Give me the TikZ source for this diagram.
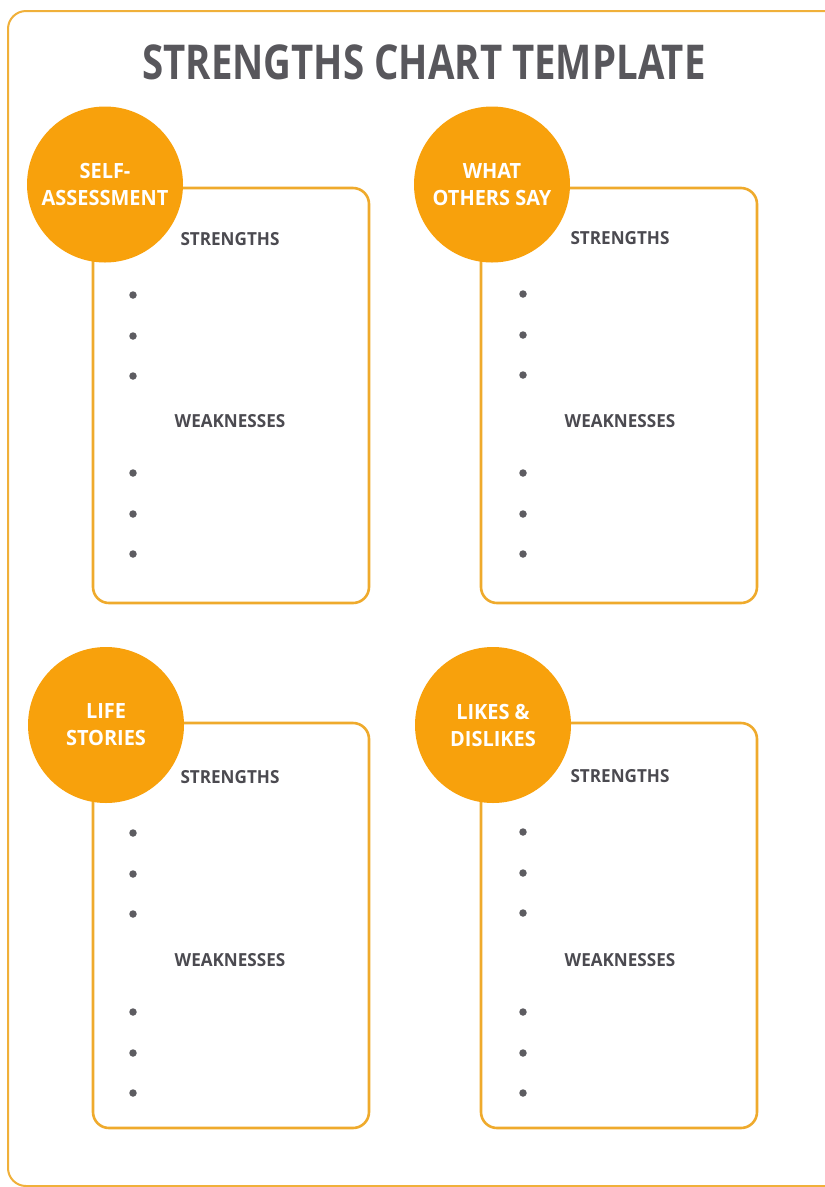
\documentclass[tikz,border=0pt]{standalone}
\usepackage{fontspec}
\setmainfont{Open Sans}
\newfontfamily\condfont[FakeStretch=0.80]{Open Sans}
\newfontfamily\headfont[FakeStretch=0.95]{Open Sans}
\definecolor{frameGold}{HTML}{F0B03A}
\definecolor{cardGold}{HTML}{EFAA2C}
\definecolor{badgeOrange}{HTML}{F8A10C}
\definecolor{titleGray}{HTML}{58575C}
\definecolor{labelGray}{HTML}{4B4A50}
\begin{document}
\begin{tikzpicture}[x=1pt,y=-1pt,
  card/.style={draw=cardGold, line width=2.6pt, rounded corners=16pt, fill=white, minimum width=276pt, inner sep=0pt},
  badge/.style={circle, fill=badgeOrange, minimum size=156pt, inner sep=0pt, text=white, align=center, font=\headfont\bfseries\fontsize{21}{27}\selectfont},
  heading/.style={text=labelGray, font=\headfont\bfseries\fontsize{18}{20}\selectfont, inner sep=0pt},
  dotmark/.style={circle, fill=labelGray!90, minimum size=7.5pt, inner sep=0pt},
  ttl/.style={text=titleGray, font=\condfont\bfseries\fontsize{48}{50}\selectfont, inner sep=0pt}
]
\useasboundingbox (0,0) rectangle (825,1187);
\fill[white] (0,0) rectangle (825,1187);
\draw[frameGold, line width=2pt, rounded corners=18pt] (8,11) rectangle (860,1186);

\node[ttl] (title) at (424,62) {STRENGTHS CHART TEMPLATE};

% cards
\node[card, minimum height=415pt] (c1) at (231,395.5) {};
\node[card, minimum height=415pt] (c2) at (619,395.5) {};
\node[card, minimum height=405pt] (c3) at (231,925.5) {};
\node[card, minimum height=405pt] (c4) at (619,925.5) {};

% badges
\node[badge] (b1) at (105,184.5) {SELF-\\ASSESSMENT};
\node[badge] (b2) at (492,184.5) {WHAT\\OTHERS SAY};
\node[badge] (b3) at (106,725) {LIFE\\STORIES};
\node[badge] (b4) at (493,725) {LIKES \&\\DISLIKES};

% headings and bullets
\foreach \cx/\bx/\sy/\wy/\nm in {230/133/239/421/a, 620/523/238/421/b, 230/133/777/960/c, 620/523/776/960/d}{
  \node[heading] (s\nm) at (\cx,\sy) {STRENGTHS};
  \node[heading] (w\nm) at (\cx,\wy) {WEAKNESSES};
  \node[dotmark] (s\nm1) at (\bx,\sy+56) {};
  \node[dotmark] (s\nm2) at (\bx,\sy+97) {};
  \node[dotmark] (s\nm3) at (\bx,\sy+137) {};
  \node[dotmark] (w\nm1) at (\bx,\wy+52) {};
  \node[dotmark] (w\nm2) at (\bx,\wy+93) {};
  \node[dotmark] (w\nm3) at (\bx,\wy+133) {};
}
\end{tikzpicture}
\end{document}
